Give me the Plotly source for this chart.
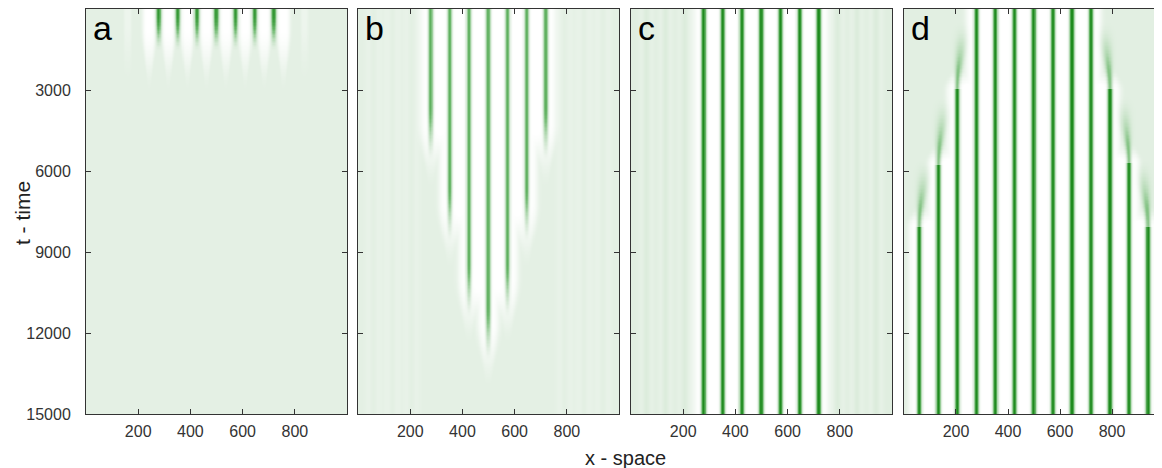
import numpy as np
import plotly.graph_objects as go

# ---- values ----
PANEL_LABELS = ["a", "b", "c", "d"]
STRIPE_X = [278, 351, 424, 498, 572, 645, 718]          # central stripes (x)
GAP_X = [242, 315, 388, 461, 535, 609, 682, 755]         # panel a: white gaps between stripes
OUTER_X = [59, 132, 205, 791, 864, 937]                  # outer stripe / ghost positions
B_END = [5400, 8400, 11200, 12800, 11200, 8400, 5400]    # panel b: end time of each central stripe
D_ON = [8100, 5800, 3000, 3000, 5750, 8100]              # panel d: onset time of outer stripes
A_FADE = [200, 1600]                                     # panel a: stripe fade window
A_GAP_FADE = [700, 3100]                                 # panel a: white gap fade window
X_TICKS = [200, 400, 600, 800]
T_TICKS = [3000, 6000, 9000, 12000, 15000]
T_TICK_TEXT = ["3000", "6000", "9000", "12000", "15000"]

x = np.arange(0, 1001, 2.0)
t = np.arange(0, 15001, 50.0)


def smooth(u):
    u = np.clip(u, 0, 1)
    return u * u * (3 - 2 * u)


def rise(t0, t1):
    return smooth((t - t0) / (t1 - t0))


def fall(t0, t1):
    return 1 - rise(t0, t1)


def const(v):
    return np.full_like(t, float(v))


def render(bg, stripes):
    P = np.zeros((t.size, x.size))
    Hs = np.zeros((t.size, x.size))
    for c, pa, pw, ha, hw in stripes:
        c = np.broadcast_to(np.asarray(c, dtype=float), t.shape)
        d = x[None, :] - c[:, None]
        P += pa[:, None] * np.exp(-(d / pw[:, None]) ** 2)
        Hs += ha[:, None] * np.exp(-(d / hw[:, None]) ** 4)
    H = np.clip(Hs, 0, 1)
    return np.clip(bg * (1 - H) + P, 0, 1)


W = 42.0
PW = 9.0
# panel a
sa = []
for c in STRIPE_X:
    pa = 0.78 * fall(*A_FADE)
    sa.append((c, pa, const(PW), const(0), const(10)))
for c in GAP_X:
    ha = fall(*A_GAP_FADE)
    sa.append((c, const(0), const(8), ha, 26 * (0.25 + 0.75 * ha)))
for c in [160, 836]:
    ha = 0.35 * fall(300, 2800)
    sa.append((c, const(0), const(8), ha, const(14)))
za = render(0.12, sa)

# panel b
sb = []
for c, te in zip(STRIPE_X, B_END):
    ha = fall(te - 1200, te + 1300)
    sb.append((c, 0.68 * fall(te - 1800, te + 300), const(PW), ha, W * (0.25 + 0.75 * ha)))
for c in OUTER_X:
    sb.append((c, const(0.03), const(14), const(0.22), const(32)))
zb = render(0.12, sb)

# panel c
sc = []
for c in STRIPE_X:
    sc.append((c, const(1), const(PW), const(1), const(W)))
for c in OUTER_X:
    sc.append((c, const(0.06), const(14), const(0.3), const(30)))
zc = render(0.14, sc)

# panel d
sd = []
for c in STRIPE_X:
    sd.append((c, const(1), const(PW), const(1), const(W)))
for c, ton in zip(OUTER_X, D_ON):
    r = rise(ton - 2600, ton)
    on = t >= ton
    inward = 1.0 if c < 500 else -1.0
    cc = c + inward * 20.0 * (1 - r) * (~on)
    pa = np.where(on, 1.0, 0.5 * r)
    pw = np.where(on, PW, PW + 16.0 * (1 - r))
    ha = np.where(on, 1.0, rise(ton - 900, ton))
    sd.append((cc, pa, pw, ha, W * (0.5 + 0.5 * ha)))
zd = render(0.13, sd)

colorscale = [
    [0.0, "#ffffff"],
    [0.12, "#e4f0e4"],
    [0.35, "#b5dab5"],
    [0.6, "#6fb96f"],
    [1.0, "#1e8a1e"],
]

fig = go.Figure()
domains = [[0.0, 0.2426], [0.2528, 0.4954], [0.5065, 0.7491], [0.7602, 1.0]]
zs = [za, zb, zc, zd]
FAM = "Liberation Sans, Arial, sans-serif"
font = dict(family=FAM, size=16, color="#333333")

for i, z in enumerate(zs):
    xa = "x" if i == 0 else f"x{i+1}"
    ya = "y" if i == 0 else f"y{i+1}"
    fig.add_trace(go.Heatmap(x=x, y=t, z=z, colorscale=colorscale, zmin=0, zmax=1,
                             showscale=False, xaxis=xa, yaxis=ya, hoverinfo="skip"))
    xkey = "xaxis" if i == 0 else f"xaxis{i+1}"
    ykey = "yaxis" if i == 0 else f"yaxis{i+1}"
    fig.layout[xkey] = dict(domain=domains[i], anchor=ya, range=[0, 992 if i == 3 else 1000],
                            tickvals=X_TICKS, ticks="inside", ticklen=5, tickcolor="#333",
                            showline=True, linecolor="#333", linewidth=1, mirror="ticks",
                            showgrid=False, zeroline=False, tickfont=font, ticklabelstandoff=3)
    fig.layout[ykey] = dict(domain=[0, 1], anchor=xa, range=[15000, 0],
                            tickvals=T_TICKS, ticktext=T_TICK_TEXT, ticks="inside", ticklen=5,
                            tickcolor="#333",
                            showline=True, linecolor="#333", linewidth=1, mirror="ticks",
                            showgrid=False, zeroline=False, tickfont=font,
                            showticklabels=(i == 0), ticklabelstandoff=11)
    fig.add_annotation(text=PANEL_LABELS[i], xref=f"{xa} domain", yref="paper",
                       x=0.02, y=1.005, xanchor="left", yanchor="top", showarrow=False,
                       font=dict(family=FAM, size=34, color="#000"))

fig.add_annotation(text="x - space", xref="paper", yref="paper", x=0.501, y=-0.1086,
                   xanchor="center", yanchor="middle", showarrow=False,
                   font=dict(family=FAM, size=20, color="#222"))
fig.add_annotation(text="t - time", xref="paper", yref="paper", x=-0.0595, y=0.496,
                   xanchor="center", yanchor="middle", textangle=-90, showarrow=False,
                   font=dict(family=FAM, size=21, color="#222"))

# the page body keeps its default 8 px margin, so the figure is sized to fit inside the window
fig.update_layout(width=1154, height=460, margin=dict(l=78, r=0, t=1, b=54),
                  paper_bgcolor="white", plot_bgcolor="white", showlegend=False)
fig.write_html("out.html")
